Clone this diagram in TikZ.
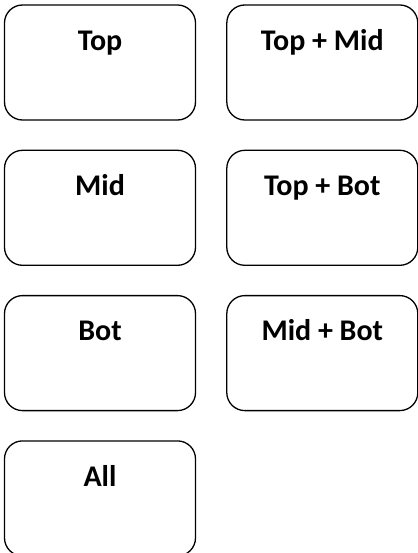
\documentclass[tikz,border=0pt]{standalone}
\usepackage{fontspec}
\setmainfont{Carlito}
\usetikzlibrary{positioning}
\tikzset{
    region/.style={rectangle, draw, rounded corners=18pt, line width=1.3pt,
                   minimum width=191pt, minimum height=115pt, inner sep=0pt},
    regiontitle/.style={anchor=base, inner sep=0pt, font=\fontsize{30}{34}\selectfont\bfseries},
}

\begin{document}
\begin{tikzpicture}[x=1pt, y=1pt, node distance=29pt and 30pt]

    \useasboundingbox (0,0) rectangle (417,-553);

    % left column
    \node[region] (top) at (100,-62.5) {};
    \node[region, below=of top] (mid) {};
    \node[region, below=of mid] (bot) {};
    \node[region, below=of bot] (all) {};

    % right column
    \node[region, right=of top] (topMid) {};
    \node[region, right=of mid] (topBot) {};
    \node[region, right=of bot] (midBot) {};

    % titles
    \node[regiontitle] (topTitle) at ([yshift=-46pt]top.north) {Top};
    \node[regiontitle] (midTitle) at ([yshift=-46pt]mid.north) {Mid};
    \node[regiontitle] (botTitle) at ([yshift=-46pt]bot.north) {Bot};
    \node[regiontitle] (allTitle) at ([yshift=-46pt]all.north) {All};
    \node[regiontitle] (topMidTitle) at ([yshift=-46pt]topMid.north) {Top + Mid};
    \node[regiontitle] (topBotTitle) at ([yshift=-46pt]topBot.north) {Top + Bot};
    \node[regiontitle] (midBotTitle) at ([yshift=-46pt]midBot.north) {Mid + Bot};

\end{tikzpicture}
\end{document}
